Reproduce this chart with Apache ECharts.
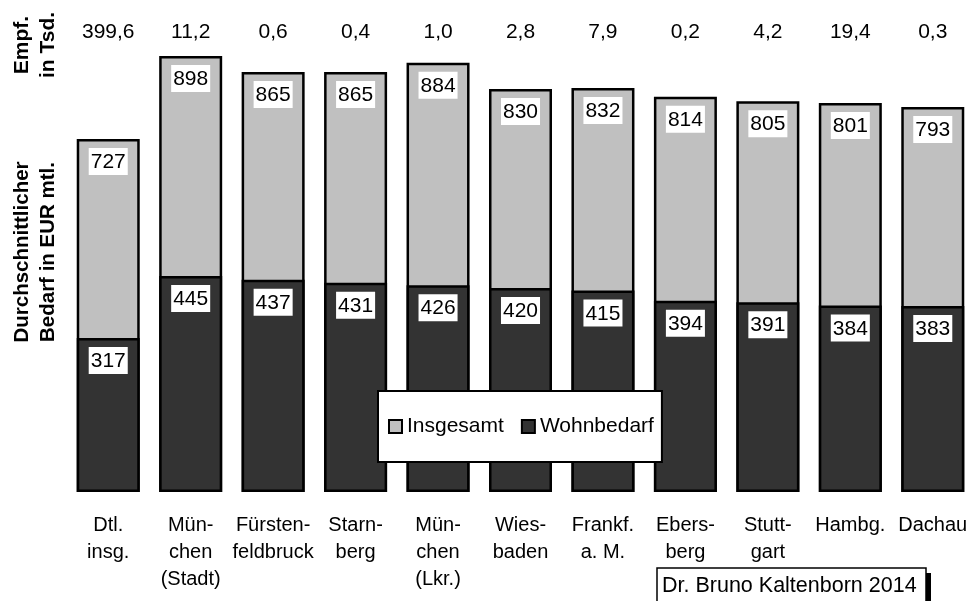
<!DOCTYPE html>
<html>
<head>
<meta charset="utf-8">
<script src="https://cdn.jsdelivr.net/npm/echarts@6/dist/echarts.min.js"></script>
<style>
  html, body { margin: 0; padding: 0; background: #fff; }
  #chart { width: 974px; height: 601px; }
</style>
</head>
<body>
<div id="chart"></div>
<script>
// Regions (labels wrap onto several lines)
const categories = [
  'Dtl.\ninsg.', 'Mün-\nchen\n(Stadt)', 'Fürsten-\nfeldbruck', 'Starn-\nberg',
  'Mün-\nchen\n(Lkr.)', 'Wies-\nbaden', 'Frankf.\na. M.', 'Ebers-\nberg',
  'Stutt-\ngart', 'Hambg.', 'Dachau'
];
// Recipients in thousands
const empfaenger = [399.6, 11.2, 0.6, 0.4, 1.0, 2.8, 7.9, 0.2, 4.2, 19.4, 0.3];
// Average monthly need in EUR
const insgesamt = [727, 898, 865, 865, 884, 830, 832, 814, 805, 801, 793];
const wohnbedarf = [317, 445, 437, 431, 426, 420, 415, 394, 391, 384, 383];

const FONT = '"Liberation Sans", Arial, sans-serif';
const fmtDe = v => v.toFixed(1).replace('.', ',');

const valueLabel = {
  show: true,
  position: 'insideTop',
  distance: 9,
  color: '#000',
  fontFamily: FONT,
  fontSize: 21,
  lineHeight: 21,
  backgroundColor: '#fff',
  padding: [4, 2, 2, 2]
};

const chart = echarts.init(document.getElementById('chart'), null, { renderer: 'canvas' });
chart.setOption({
  animation: false,
  backgroundColor: '#fff',
  grid: { left: 67, top: 55, width: 910, bottom: 109, containLabel: false },
  xAxis: [
    {
      type: 'category',
      data: categories,
      position: 'bottom',
      axisLine: { show: false },
      axisTick: { show: false },
      axisLabel: {
        interval: 0,
        margin: 20,
        color: '#000',
        fontFamily: FONT,
        fontSize: 20,
        lineHeight: 27,
        align: 'center',
        verticalAlign: 'top'
      }
    },
    {
      type: 'category',
      data: empfaenger.map(fmtDe),
      position: 'top',
      axisLine: { show: false },
      axisTick: { show: false },
      axisLabel: {
        interval: 0,
        margin: 12,
        color: '#000',
        fontFamily: FONT,
        fontSize: 21
      }
    }
  ],
  yAxis: { type: 'value', min: 0, max: 900, show: false },
  legend: {
    left: 378,
    top: 391,
    padding: [25, 8, 25, 10],
    backgroundColor: '#fff',
    borderColor: '#000',
    borderWidth: 2,
    borderRadius: 0,
    itemWidth: 13,
    itemHeight: 13,
    itemGap: 17,
    icon: 'rect',
    itemStyle: { borderColor: '#000', borderWidth: 2 },
    textStyle: { color: '#000', fontFamily: FONT, fontSize: 21 },
    data: ['Insgesamt', 'Wohnbedarf'],
    z: 10
  },
  series: [
    {
      name: 'Insgesamt',
      type: 'bar',
      data: insgesamt,
      barWidth: 63,
      barGap: '-100%',
      itemStyle: { color: '#c0c0c0', borderColor: '#000', borderWidth: 2.5 },
      label: valueLabel
    },
    {
      name: 'Wohnbedarf',
      type: 'bar',
      data: wohnbedarf,
      barWidth: 63,
      barGap: '-100%',
      itemStyle: { color: '#333333', borderColor: '#000', borderWidth: 2.5 },
      label: valueLabel
    }
  ],
  graphic: [
    {
      type: 'text',
      x: 35, y: 45,
      rotation: Math.PI / 2,
      style: {
        text: 'Empf.\nin Tsd.',
        fill: '#000',
        font: 'bold 21px ' + FONT,
        lineHeight: 26,
        align: 'center',
        verticalAlign: 'middle'
      }
    },
    {
      type: 'text',
      x: 35, y: 252,
      rotation: Math.PI / 2,
      style: {
        text: 'Durchschnittlicher\nBedarf in EUR mtl.',
        fill: '#000',
        font: 'bold 20.5px ' + FONT,
        lineHeight: 26,
        align: 'center',
        verticalAlign: 'middle'
      }
    },
    {
      type: 'rect',
      shape: { x: 662, y: 573, width: 269, height: 40 },
      style: { fill: '#000' }
    },
    {
      type: 'rect',
      shape: { x: 657, y: 568, width: 269, height: 40 },
      style: { fill: '#fff', stroke: '#000', lineWidth: 1.5 }
    },
    {
      type: 'text',
      x: 662, y: 586,
      style: {
        text: 'Dr. Bruno Kaltenborn 2014',
        fill: '#000',
        font: '21.5px ' + FONT,
        align: 'left',
        verticalAlign: 'middle'
      }
    }
  ]
});
</script>
</body>
</html>
